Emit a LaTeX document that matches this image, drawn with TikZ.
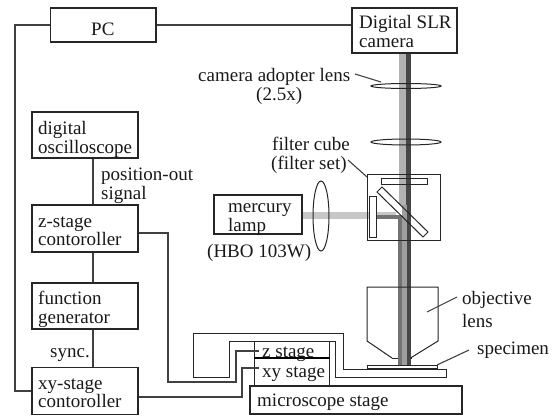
\documentclass[tikz,border=0pt]{standalone}
\usepackage{fontspec}
\setmainfont{Liberation Serif}
\begin{document}
\begin{tikzpicture}[x=1pt,y=-1pt,
  box/.style={draw=black!85,line width=1.2pt,fill=white,inner sep=0pt},
  conn/.style={draw=black!75,line width=1.1pt,line join=miter},
  part/.style={draw=black!85,line width=1pt},
  lbl/.style={font=\fontsize{19}{19}\selectfont,align=left,inner sep=0pt,anchor=base west,text=black!90}]
\useasboundingbox (0,0) rectangle (554,415);
% beams
\fill[black!30] (399,53) rectangle (405.5,205);
\fill[black!72] (405.5,53) rectangle (410.5,205);
\fill[black!22] (302,212) rectangle (370,218.5);
\fill[black!22] (376,212) rectangle (396,215);
\fill[black!55] (376,215) rectangle (401.5,218.5);
\fill[black!55] (398,216) rectangle (401.5,365);
\fill[black!38] (401.5,205) rectangle (407,365);
\fill[black!72] (407,205) rectangle (410.5,365);
% main boxes
\node[box,minimum width=105.5,minimum height=34] (pc) at (103.25,25) {};
\node[lbl] at (91,35) {PC};
\node[box,minimum width=105,minimum height=45] (cam) at (404.5,30.5) {};
\node[box,minimum width=106,minimum height=46] (osc) at (85,135) {};
\node[box,minimum width=106,minimum height=47] (zc) at (85,228.5) {};
\node[box,minimum width=106,minimum height=46] (fg) at (85,306) {};
\node[box,minimum width=106,minimum height=46.5] (xyc) at (85,391) {};
\node[box,minimum width=88,minimum height=39] (lamp) at (258,214.5) {};
\draw[conn] (pc.west) -- (15,25) |- (xyc.west);
\draw[conn] (pc.east) -- (cam.west |- pc.east);
\draw[conn] (osc.south -| 93,0) -- (zc.north -| 93,0);
\draw[conn] (zc.south -| 93,0) -- (fg.north -| 93,0);
\draw[conn] (fg.south -| 93,0) -- (xyc.north -| 93,0);
% labels
\node[lbl] at (359,28.5) {Digital SLR};
\node[lbl] at (359,47) {camera};
\node[lbl] at (38,134) {digital};
\node[lbl] at (38,153) {oscilloscope};
\node[lbl] at (101,180) {position-out};
\node[lbl] at (101,199) {signal};
\node[lbl] at (38,227) {z-stage};
\node[lbl] at (38,245) {contoroller};
\node[lbl] at (38,304) {function};
\node[lbl] at (38,323) {generator};
\node[lbl] at (50,357) {sync.};
\node[lbl] at (38,389) {xy-stage};
\node[lbl] at (38,407) {contoroller};
\node[lbl] at (228,212) {mercury};
\node[lbl] at (228,231) {lamp};
\node[lbl] at (207,257) {(HBO 103W)};
\node[lbl] at (198,81) {camera adopter lens};
\node[lbl] at (256,100) {(2.5x)};
\node[lbl] at (272,150) {filter cube};
\node[lbl] at (271,169) {(filter set)};
\node[lbl] at (462,304) {objective};
\node[lbl] at (462,327) {lens};
\node[lbl] at (477,354) {specimen};
% lenses
\draw[part] (406,86) ellipse (35 and 2.5);
\draw[part] (406,142) ellipse (35 and 3);
\draw[part] (321,216) ellipse (8 and 35);
\draw[conn] (355,74) -- (381,82);
\draw[conn] (348,160) -- (367,177);
% filter cube
\draw[part] (367,174) rectangle (440,240);
\draw[part] (381,178) rectangle (427,184);
\draw[part] (369.5,196) rectangle (376,237);
\draw[part] (382,187) -- (377,192) -- (423,237) -- (428,232) -- cycle;
% objective
\draw[part] (392,358) -- (367,341) -- (367,287) -- (438,287) -- (438,341) -- (410.5,358);
\draw[part] (392,358) -- (398,358) (410.5,358) -- (411,358);
\draw[conn] (427,312) -- (457,297);
% stage
\draw[part] (193,333) -- (343,333) -- (343,369) -- (446,369) -- (446,377) -- (335,377) -- (335,341) -- (229,341) -- (229,377) -- (193,377) -- cycle;
\draw[part,fill=white] (367,365) rectangle (437,368.5);
\draw[conn] (437,365) -- (469,350);
\draw[part,fill=white] (254,341) rectangle (329.5,385);
\draw[black,line width=1.6pt] (254,358) -- (329.5,358);
\node[box,minimum width=212,minimum height=28] (ms) at (356,400) {};
\node[lbl] at (262,357) {z stage};
\node[lbl] at (262,377) {xy stage};
\node[lbl] at (257,406) {microscope stage};
\draw[conn] (zc.east |- 0,233) -- (168,233) -- (168,382) -- (236,382) -- (236,351) -- (259,351);
\draw[conn] (xyc.east |- 0,397) -- (242,397) -- (242,368) -- (259,368);
\end{tikzpicture}
\end{document}
